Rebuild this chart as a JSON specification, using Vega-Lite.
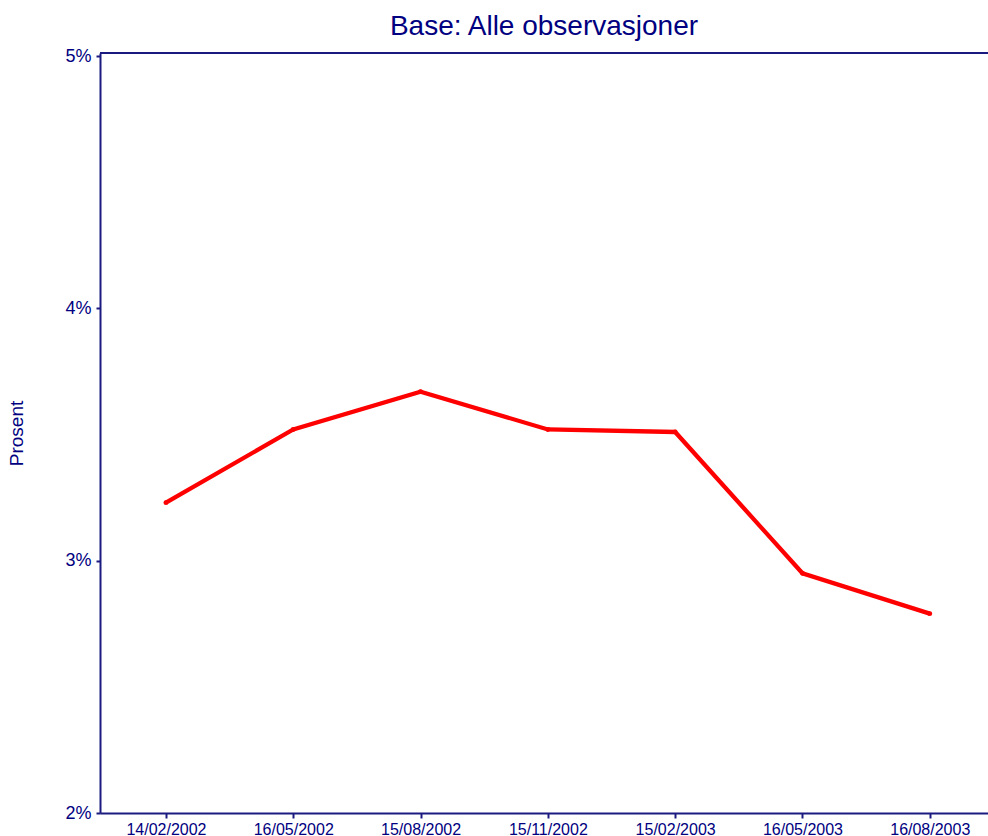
{
  "$schema": "https://vega.github.io/schema/vega-lite/v6.json",
  "autosize": {"type": "none"},
  "padding": {"left": 100, "top": 53, "right": 0, "bottom": 23},
  "width": 888,
  "height": 760,
  "background": "white",
  "config": {
    "view": {"stroke": null},
    "font": "Liberation Sans",
    "axis": {"grid": false, "domainColor": "#1a1a80", "domainWidth": 2, "tickColor": "#1a1a80", "tickWidth": 2, "labelColor": "#000080", "titleColor": "#000080", "labelFont": "Liberation Sans", "titleFont": "Liberation Sans", "titleFontWeight": "normal"}
  },
  "title": {"text": "Base: Alle observasjoner", "font": "Liberation Sans", "fontSize": 28, "fontWeight": "normal", "color": "#000080", "anchor": "middle", "baseline": "alphabetic", "offset": 20, "dy": 36},
  "data": {"values": [
    {"dato": "14/02/2002", "prosent": 3.23},
    {"dato": "16/05/2002", "prosent": 3.52},
    {"dato": "15/08/2002", "prosent": 3.67},
    {"dato": "15/11/2002", "prosent": 3.52},
    {"dato": "15/02/2003", "prosent": 3.51},
    {"dato": "16/05/2003", "prosent": 2.95},
    {"dato": "16/08/2003", "prosent": 2.79}
  ]},
  "encoding": {
    "x": {"field": "dato", "type": "ordinal", "sort": null,
      "scale": {"type": "point", "padding": 0.4877, "align": 0.531},
      "axis": {"title": null, "labelAngle": 0, "labelFontSize": 16, "tickSize": 5, "labelPadding": 3}},
    "y": {"field": "prosent", "type": "quantitative",
      "scale": {"domain": [2, 5.012], "nice": false, "zero": false},
      "axis": {"title": "Prosent", "values": [2, 3, 4, 5], "labelExpr": "datum.value + '%'", "labelFontSize": 18, "tickSize": 4, "labelPadding": 5, "titleFontSize": 19, "titlePadding": 38}}
  },
  "layer": [
    {"mark": {"type": "line", "color": "#ff0000", "strokeWidth": 4.3}},
    {"mark": {"type": "point", "filled": true, "color": "#ff0000", "size": 24, "opacity": 1}},
    {"mark": {"type": "rule", "color": "#1a1a80", "strokeWidth": 2}, "encoding": {"x": null, "y": {"datum": 5.012}}}
  ]
}
